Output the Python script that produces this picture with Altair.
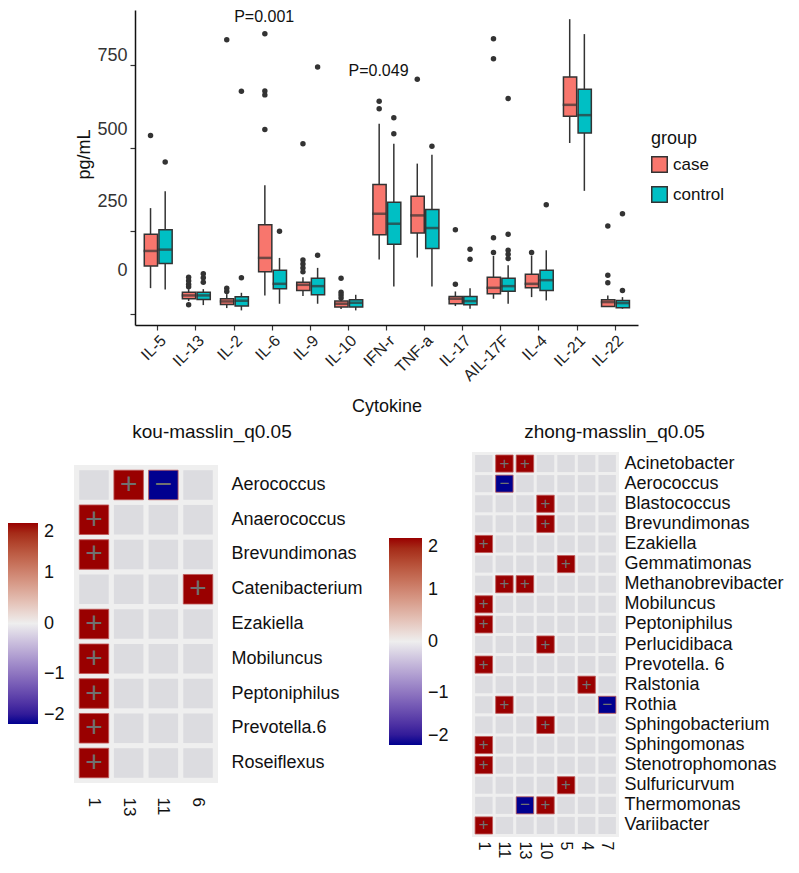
import altair as alt
import pandas as pd

# ---------------- Boxplot data ----------------
cytokines = ["IL-5", "IL-13", "IL-2", "IL-6", "IL-9", "IL-10", "IFN-r",
             "TNF-a", "IL-17", "AIL-17F", "IL-4", "IL-21", "IL-22"]
groups = ["case", "control"]

case_lo  = [78, 39, 18, 56, 54, 15, 164, 170, 24, 46, 51, 515, 21]
case_q1  = [145, 46, 29, 127, 71, 21, 239, 244, 31, 61, 79, 596, 23]
case_med = [190, 56, 38, 169, 88, 31, 302, 297, 46, 79, 91, 630, 36]
case_q3  = [240, 66, 46, 269, 96, 39, 390, 355, 53, 111, 120, 714, 43]
case_hi  = [319, 75, 60, 388, 111, 45, 573, 453, 68, 175, 176, 888, 56]

control_lo  = [74, 27, 11, 31, 31, 11, 83, 83, 16, 31, 41, 371, 16]
control_q1  = [152, 44, 24, 76, 58, 21, 210, 197, 28, 69, 71, 545, 19]
control_med = [194, 56, 40, 91, 84, 34, 272, 259, 39, 84, 102, 599, 33]
control_q3  = [254, 66, 52, 132, 108, 43, 337, 315, 53, 108, 132, 677, 41]
control_hi  = [370, 75, 64, 169, 139, 58, 513, 480, 78, 147, 192, 843, 51]

case_outliers = [[538], [111, 100, 90, 82, 28], [826, 78, 68], [844, 672, 660, 556],
                 [513, 163, 151, 139, 127], [108, 66, 57, 48], [641, 618], [707],
                 [254, 90], [829, 769, 230, 185], [185], [], [265, 117, 94]]
control_outliers = [[458], [121, 109, 96], [671, 109], [249], [744, 177], [],
                    [591, 543], [505], [195, 165], [649, 240, 192, 180, 167],
                    [329], [], [302, 71]]

p_cytokine = ["IL-6", "IFN-r"]
p_height = [895, 732]
p_label = ["P=0.001", "P=0.049"]

# ---------------- Heatmap data ----------------
kou_taxa = ["Aerococcus", "Anaerococcus", "Brevundimonas", "Catenibacterium",
            "Ezakiella", "Mobiluncus", "Peptoniphilus", "Prevotella.6", "Roseiflexus"]
kou_cols = ["1", "13", "11", "6"]
kou_hits = [("Aerococcus", "13", "+"), ("Aerococcus", "11", "\u2212"),
            ("Anaerococcus", "1", "+"), ("Brevundimonas", "1", "+"),
            ("Catenibacterium", "6", "+"), ("Ezakiella", "1", "+"),
            ("Mobiluncus", "1", "+"), ("Peptoniphilus", "1", "+"),
            ("Prevotella.6", "1", "+"), ("Roseiflexus", "1", "+")]

zhong_taxa = ["Acinetobacter", "Aerococcus", "Blastococcus", "Brevundimonas",
              "Ezakiella", "Gemmatimonas", "Methanobrevibacter", "Mobiluncus",
              "Peptoniphilus", "Perlucidibaca", "Prevotella. 6", "Ralstonia",
              "Rothia", "Sphingobacterium", "Sphingomonas", "Stenotrophomonas",
              "Sulfuricurvum", "Thermomonas", "Variibacter"]
zhong_cols = ["1", "11", "13", "10", "5", "4", "7"]
zhong_hits = [("Acinetobacter", "11", "+"), ("Acinetobacter", "13", "+"),
              ("Aerococcus", "11", "\u2212"), ("Blastococcus", "10", "+"),
              ("Brevundimonas", "10", "+"), ("Ezakiella", "1", "+"),
              ("Gemmatimonas", "5", "+"), ("Methanobrevibacter", "11", "+"),
              ("Methanobrevibacter", "13", "+"), ("Mobiluncus", "1", "+"),
              ("Peptoniphilus", "1", "+"), ("Perlucidibaca", "10", "+"),
              ("Prevotella. 6", "1", "+"), ("Ralstonia", "4", "+"),
              ("Rothia", "11", "+"), ("Rothia", "7", "\u2212"),
              ("Sphingobacterium", "10", "+"), ("Sphingomonas", "1", "+"),
              ("Stenotrophomonas", "1", "+"), ("Sulfuricurvum", "5", "+"),
              ("Thermomonas", "13", "\u2212"), ("Thermomonas", "10", "+"),
              ("Variibacter", "1", "+")]

FONT = "Liberation Sans"
DARK = "#333333"
one_row = pd.DataFrame({"a": [0]})

# ---------------- Boxplot chart ----------------
box_rows = []
out_rows = []
for i, c in enumerate(cytokines):
    box_rows.append(dict(cytokine=c, group="case", lo=case_lo[i], q1=case_q1[i],
                         med=case_med[i], q3=case_q3[i], hi=case_hi[i]))
    box_rows.append(dict(cytokine=c, group="control", lo=control_lo[i], q1=control_q1[i],
                         med=control_med[i], q3=control_q3[i], hi=control_hi[i]))
    for v in case_outliers[i]:
        out_rows.append(dict(cytokine=c, group="case", value=v))
    for v in control_outliers[i]:
        out_rows.append(dict(cytokine=c, group="control", value=v))
box_df = pd.DataFrame(box_rows)
out_df = pd.DataFrame(out_rows)
p_df = pd.DataFrame({"cytokine": p_cytokine, "y": p_height, "label": p_label})

x_enc = alt.X("cytokine:N", sort=cytokines,
              scale=alt.Scale(paddingInner=0.25, paddingOuter=0.225),
              axis=alt.Axis(title="Cytokine", labelAngle=-45, labelFontSize=16,
                            labelColor="#222222", tickSize=5, tickColor=DARK,
                            tickWidth=1.2, domainColor="#111111", domainWidth=1.5,
                            labelPadding=2, titleFontSize=18, titleFontWeight="normal",
                            titleColor="#111111", titlePadding=14, grid=False))
xo_enc = alt.XOffset("group:N", sort=groups, scale=alt.Scale(paddingInner=0.05))
y_scale = alt.Scale(domain=[-33, 915.6], nice=False, zero=False)
y_axis = alt.Axis(values=[0, 250, 500, 750], grid=False, tickSize=5, tickColor=DARK,
                  tickWidth=1.2, domainColor="#111111", domainWidth=1.5,
                  labelFontSize=18, labelColor=DARK, labelPadding=3,
                  titleFontSize=18, titleFontWeight="normal", titleColor="#111111",
                  titlePadding=3, titleY=144,
                  labelOffset={"condition": [
                      {"test": "datum.value === 0", "value": -44},
                      {"test": "datum.value === 250", "value": -30},
                      {"test": "datum.value === 500", "value": -19}],
                      "value": -9})

whiskers = alt.Chart(box_df).mark_rule(color=DARK, strokeWidth=1.5).encode(
    x=x_enc, xOffset=xo_enc,
    y=alt.Y("lo:Q", scale=y_scale, axis=y_axis, title="pg/mL"),
    y2="hi:Q")

boxes = alt.Chart(box_df).mark_bar(stroke=DARK, strokeWidth=1.5, width={"band": 0.95}).encode(
    x=x_enc, xOffset=xo_enc,
    y=alt.Y("q1:Q", scale=y_scale, axis=y_axis, title="pg/mL"),
    y2="q3:Q",
    color=alt.Color("group:N", sort=groups,
                    scale=alt.Scale(domain=groups, range=["#F8766D", "#00BFC4"]),
                    legend=alt.Legend(title="group", orient="none", legendX=577, legendY=120,
                                      titleFontSize=18, titleFontWeight="normal",
                                      titleColor="#111111", labelFontSize=17,
                                      labelColor="#111111", symbolType="square",
                                      symbolSize=240, symbolStrokeColor=DARK,
                                      symbolStrokeWidth=1.5, rowPadding=7,
                                      titlePadding=8, labelOffset=5)))

medians = alt.Chart(box_df).mark_tick(color=DARK, thickness=2.5, size=14).encode(
    x=x_enc, xOffset=xo_enc,
    y=alt.Y("med:Q", scale=y_scale, axis=y_axis, title="pg/mL"))

outliers = alt.Chart(out_df).mark_circle(color=DARK, size=30, opacity=1).encode(
    x=x_enc, xOffset=xo_enc,
    y=alt.Y("value:Q", scale=y_scale, axis=y_axis, title="pg/mL"))

ptext = alt.Chart(p_df).mark_text(fontSize=16, color="#111111", dx=-8).encode(
    x=x_enc,
    y=alt.Y("y:Q", scale=y_scale, axis=y_axis, title="pg/mL"),
    text="label:N")

top = alt.layer(whiskers, boxes, medians, outliers, ptext).properties(
    width=503, height=315)

# a blank 1px cell that shifts the boxplot right of the heatmap row's origin
blank = alt.Chart(one_row).mark_point(opacity=0, size=1).encode(
    x=alt.value(0), y=alt.value(0)).properties(width=1, height=10)
top_row = alt.hconcat(blank, top, spacing=0)


# ---------------- Heatmaps ----------------
def heatmap(taxa, cols, hits, title, w, h, top_gap, sign_size, lx, ly, glen, gthick,
            ypad, xpad, xfont, tdx, toffset):
    grid = pd.DataFrame([(t, c) for t in taxa for c in cols], columns=["taxon", "col"])
    hit = pd.DataFrame(hits, columns=["taxon", "col", "sign"])
    hit["value"] = hit["sign"].map({"+": 2, "\u2212": -2})
    xenc = alt.X("col:N", sort=cols, title=None,
                 scale=alt.Scale(paddingInner=0.15, paddingOuter=0.15),
                 axis=alt.Axis(labelAngle=90, ticks=False, domain=False,
                               labelPadding=xpad, labelFontSize=xfont,
                               labelColor="#111111"))
    yenc = alt.Y("taxon:N", sort=taxa, title=None,
                 scale=alt.Scale(paddingInner=0.15, paddingOuter=0.15,
                                 range=[top_gap, h]),
                 axis=alt.Axis(orient="right", ticks=False, domain=False,
                               labelPadding=ypad, labelFontSize=18,
                               labelColor="#111111"))
    panel = alt.Chart(one_row).mark_rect(color="#efefef").encode(
        x=alt.value(0), x2=alt.value(w), y=alt.value(top_gap), y2=alt.value(h))
    bg = alt.Chart(grid).mark_rect(color="#dcdce0").encode(x=xenc, y=yenc)
    cells = alt.Chart(hit).mark_rect(stroke="#c25a5a", strokeWidth=0.8).encode(
        x=xenc, y=yenc,
        color=alt.Color("value:Q", title=None,
                        scale=alt.Scale(domain=[-2, 0, 2],
                                        range=["#00008f", "#eeeeee", "#990000"]),
                        legend=alt.Legend(orient="none", legendX=lx, legendY=ly,
                                          direction="vertical",
                                          gradientLength=glen, gradientThickness=gthick,
                                          gradientStrokeWidth=0,
                                          values=[-2, -1, 0, 1, 2],
                                          labelFontSize=18, labelColor="#111111",
                                          labelOffset=6)))
    signs = alt.Chart(hit).mark_text(fontSize=sign_size, color="#707070").encode(
        x=xenc, y=yenc, text="sign:N")
    return alt.layer(panel, bg, cells, signs).properties(
        width=w, height=h,
        title=alt.TitleParams(title, fontSize=19, fontWeight="normal", color="#111111",
                              anchor="middle", dx=tdx, offset=toffset))


left = heatmap(kou_taxa, kou_cols, kou_hits, "kou-masslin_q0.05",
               w=144, h=331, top_gap=13, sign_size=30, lx=-66, ly=71, glen=201,
               gthick=30, ypad=13, xpad=14, xfont=17, tdx=66, toffset=10)
right = heatmap(zhong_taxa, zhong_cols, zhong_hits, "zhong-masslin_q0.05",
                w=147, h=385, top_gap=0, sign_size=17, lx=-83, ly=86, glen=207,
                gthick=33, ypad=5, xpad=4, xfont=16, tdx=69, toffset=10)

bottom = alt.hconcat(left, right, spacing=26).resolve_scale(color="independent")

chart = alt.vconcat(top_row, bottom, spacing=7).resolve_scale(
    color="independent").properties(padding=0).configure(
    font=FONT).configure_view(stroke=None)

chart.save("out.html", embed_options={"renderer": "svg", "actions": False})
